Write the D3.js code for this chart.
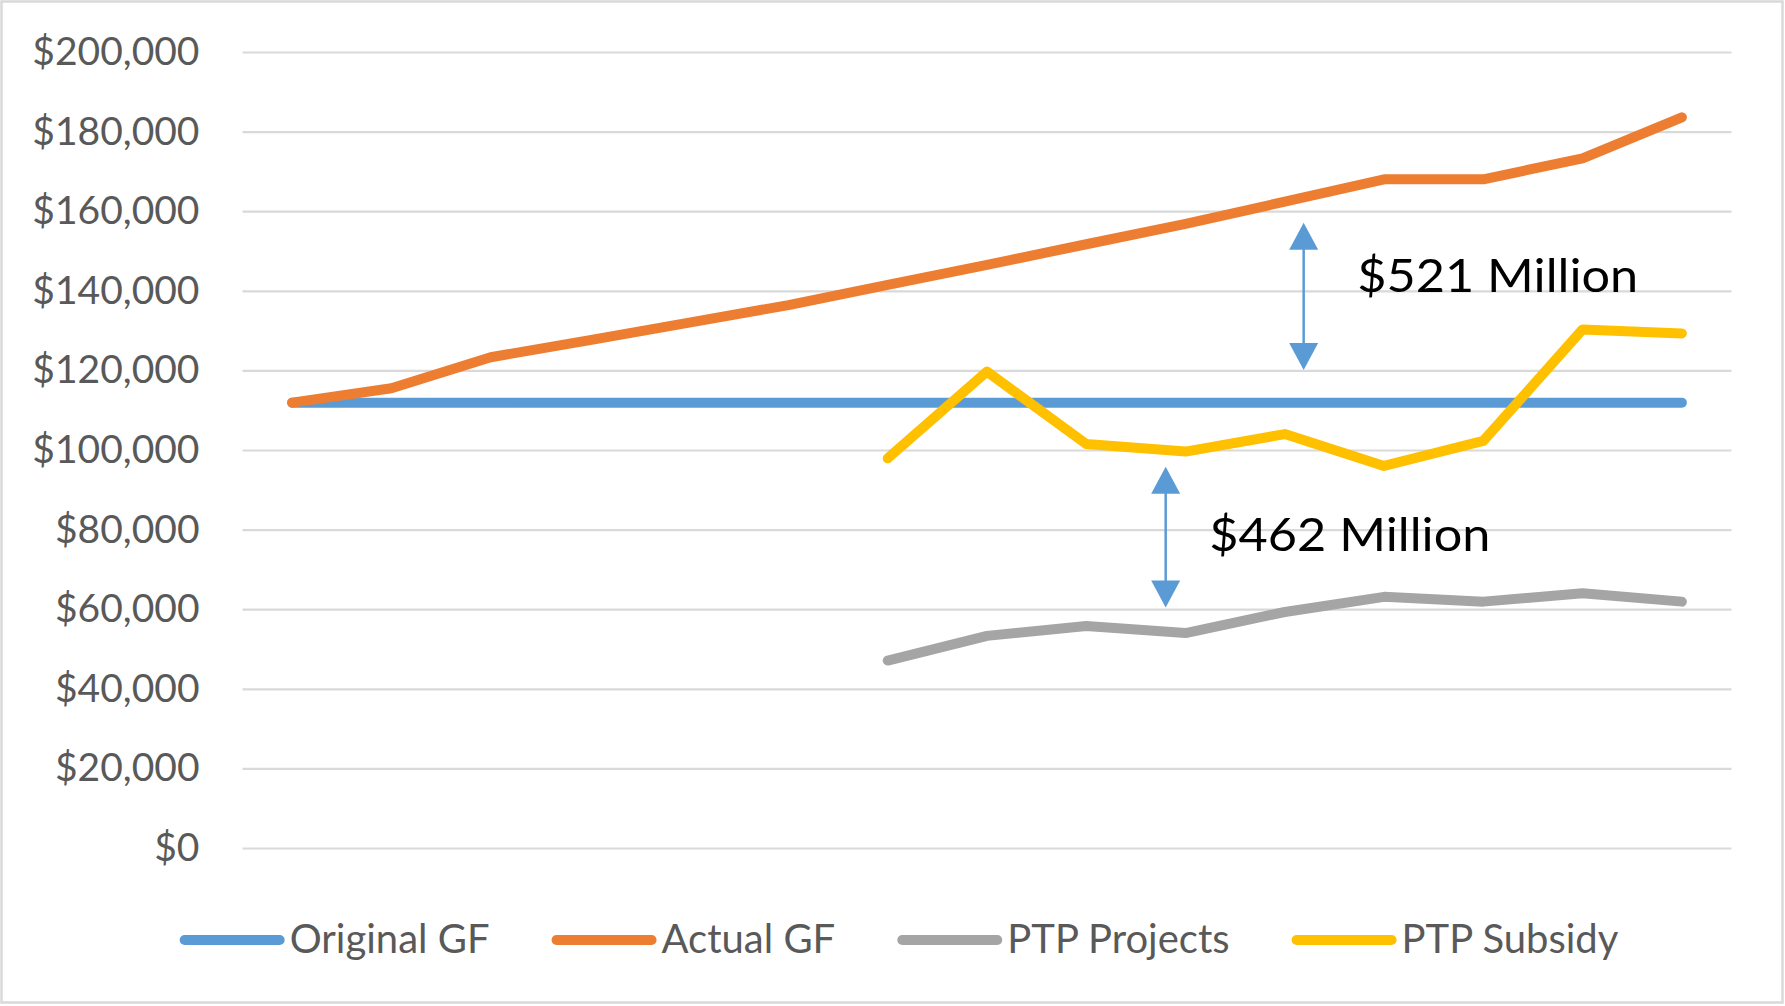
<!DOCTYPE html>
<html>
<head>
<meta charset="utf-8">
<script src="https://cdn.jsdelivr.net/npm/d3@7"></script>
<style>
  body { margin: 0; background: #fff; }
  text { font-family: Lato, "Open Sans", sans-serif; }
</style>
</head>
<body>
<svg id="chart" width="1785" height="1006"></svg>
<script>
// periods (no labels shown on the x axis)
const periods = [1, 2, 3, 4, 5, 6, 7, 8, 9, 10, 11, 12, 13, 14, 15];

// series, in $ thousands
const originalGF = [111900, 111900, 111900, 111900, 111900, 111900, 111900, 111900, 111900, 111900, 111900, 111900, 111900, 111900, 111900];
const actualGF   = [111900, 115500, 123300, 127600, 132000, 136400, 141500, 146500, 151700, 156800, 162400, 168000, 168000, 173300, 183600];
const ptpProjects = [null, null, null, null, null, null, 47100, 53300, 55800, 54000, 59300, 63100, 61900, 64000, 61900];
const ptpSubsidy  = [null, null, null, null, null, null, 97900, 119700, 101500, 99600, 104000, 96000, 102300, 130300, 129300];

const seriesNames = ["Original GF", "Actual GF", "PTP Projects", "PTP Subsidy"];
const seriesColors = ["#5B9BD5", "#ED7D31", "#A5A5A5", "#FFC000"];
const yTicks = [0, 20000, 40000, 60000, 80000, 100000, 120000, 140000, 160000, 180000, 200000];

// gap annotations: period position, from value, to value
const gapLabels = ["$521 Million", "$462 Million"];
const gapAt = [11.19, 9.80];
const gapFrom = [120100, 60400];
const gapTo = [157100, 95800];
const gapTextAt = [11.73, 10.24];
const gapTextY = [139800, 74700];

const svg = d3.select("#chart");

// chart frame
svg.append("rect")
  .attr("x", 1.5).attr("y", 1.5)
  .attr("width", 1781).attr("height", 1001)
  .attr("fill", "#fff")
  .attr("stroke", "#D9D9D9")
  .attr("stroke-width", 2.5);

const plotLeft = 242.5, plotRight = 1731.5, plotTop = 52, plotBottom = 848;

const x = d3.scaleBand()
  .domain(periods)
  .range([plotLeft, plotRight])
  .padding(0);
const xc = d => x(d) + x.bandwidth() / 2;
// continuous position for annotations (period number -> px)
const xPos = d3.scaleLinear()
  .domain([1, 15])
  .range([xc(1), xc(15)]);

const y = d3.scaleLinear()
  .domain([0, 200000])
  .range([plotBottom, plotTop]);

// gridlines + labels
const yAxis = d3.axisLeft(y)
  .tickValues(yTicks)
  .tickFormat(d3.format("$,.0f"))
  .tickSize(-(plotRight - plotLeft))
  .tickPadding(43);

const ga = svg.append("g")
  .attr("transform", "translate(" + plotLeft + ",0)")
  .call(yAxis);
ga.select(".domain").remove();
ga.selectAll(".tick line")
  .attr("stroke", "#D9D9D9")
  .attr("stroke-width", 2.2);
ga.selectAll(".tick text")
  .attr("fill", "#595959")
  .style("font-size", "39px")
  .style("font-family", "Lato, sans-serif");

// lines
const allSeries = [originalGF, actualGF, ptpProjects, ptpSubsidy];
const line = d3.line()
  .defined(d => d.v != null)
  .x(d => xc(d.p))
  .y(d => y(d.v));

allSeries.forEach((vals, i) => {
  svg.append("path")
    .datum(periods.map((p, j) => ({ p: p, v: vals[j] })))
    .attr("d", line)
    .attr("fill", "none")
    .attr("stroke", seriesColors[i])
    .attr("stroke-width", 10)
    .attr("stroke-linecap", "round")
    .attr("stroke-linejoin", "round");
});

// gap arrows
const headLen = 27, headHalf = 14.5;
gapLabels.forEach((label, i) => {
  const ax = xPos(gapAt[i]);
  const yTop = y(gapTo[i]);
  const yBot = y(gapFrom[i]);
  const g = svg.append("g");
  g.append("line")
    .attr("x1", ax).attr("x2", ax)
    .attr("y1", yTop + headLen - 2).attr("y2", yBot - headLen + 2)
    .attr("stroke", "#5B9BD5")
    .attr("stroke-width", 2.5);
  g.append("path")
    .attr("d", `M${ax},${yTop} L${ax + headHalf},${yTop + headLen} L${ax - headHalf},${yTop + headLen} Z`)
    .attr("fill", "#5B9BD5");
  g.append("path")
    .attr("d", `M${ax},${yBot} L${ax + headHalf},${yBot - headLen} L${ax - headHalf},${yBot - headLen} Z`)
    .attr("fill", "#5B9BD5");
  svg.append("text")
    .attr("x", xPos(gapTextAt[i]))
    .attr("y", y(gapTextY[i]))
    .attr("fill", "#000")
    .style("font-size", "46px")
    .attr("textLength", 281)
    .attr("lengthAdjust", "spacingAndGlyphs")
    .text(label);
});

// legend
const legY = 939;
const legend = svg.append("g");
let cursor = 0;
seriesNames.forEach((name, i) => {
  const item = legend.append("g").attr("transform", "translate(" + cursor + ",0)");
  item.append("line")
    .attr("x1", 5).attr("x2", 100)
    .attr("y1", legY + 1).attr("y2", legY + 1)
    .attr("stroke", seriesColors[i])
    .attr("stroke-width", 10)
    .attr("stroke-linecap", "round");
  const t = item.append("text")
    .attr("x", 110)
    .attr("y", legY)
    .attr("dy", "0.35em")
    .attr("fill", "#595959")
    .style("font-size", "40px")
    .text(name);
  cursor += 110 + t.node().getComputedTextLength() + 62;
});
const legWidth = cursor - 62;
legend.attr("transform", "translate(" + (899 - legWidth / 2) + ",0)");
</script>
</body>
</html>
